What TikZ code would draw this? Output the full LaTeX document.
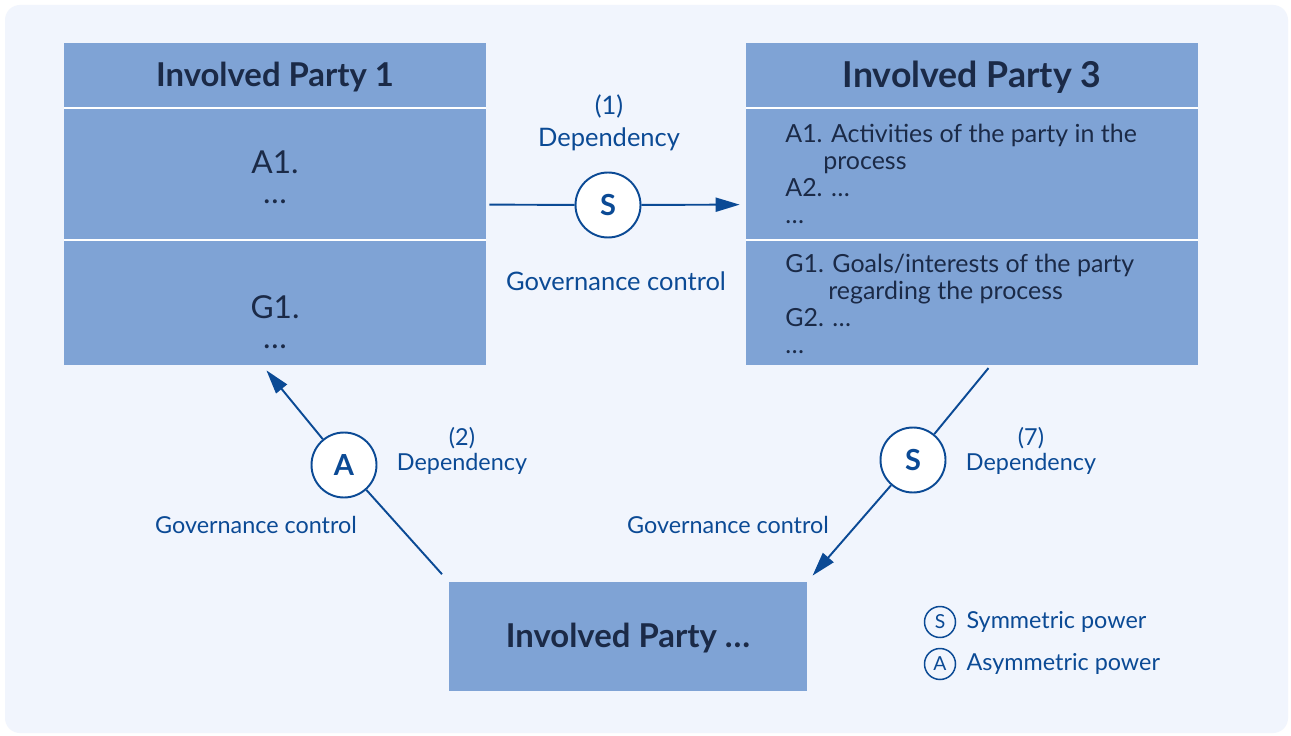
\documentclass[tikz,border=0pt]{standalone}
\usepackage{fontspec}
\setmainfont{Lato}
\usepackage{tikz}
\usetikzlibrary{arrows.meta,positioning}
\definecolor{pagebg}{HTML}{F1F5FD}
\definecolor{partyfill}{HTML}{7FA3D5}
\definecolor{inkblue}{HTML}{0B4A95}
\definecolor{darktext}{HTML}{1B2A47}

\begin{document}
\begin{tikzpicture}[x=0.02cm, y=-0.02cm,
    party/.style={rectangle, fill=partyfill, inner sep=0pt},
    head/.style={inner sep=0pt, text=darktext, font=\fontsize{18.7}{21}\selectfont\bfseries},
    item/.style={inner sep=0pt, text=darktext, align=center, font=\fontsize{18}{17}\selectfont},
    list/.style={inner sep=0pt, text=darktext, align=left, anchor=north west, font=\fontsize{14.2}{15.4}\selectfont},
    sep/.style={white, line width=1.7pt},
    power/.style={circle, draw=inkblue, fill=white, line width=1.1pt, minimum size=1.3cm, inner sep=0pt, text=inkblue, font=\fontsize{16.5}{16.5}\selectfont\bfseries},
    key/.style={circle, draw=inkblue, line width=0.85pt, minimum size=0.62cm, inner sep=0pt, text=inkblue, font=\fontsize{11}{11}\selectfont},
    lbl/.style={inner sep=0pt, text=inkblue, align=center, font=\fontsize{14.5}{18}\selectfont},
    slbl/.style={inner sep=0pt, text=inkblue, align=center, font=\fontsize{13.3}{13.8}\selectfont},
    link/.style={draw=inkblue, line width=1.1pt},
    arrow/.style={link, -{Triangle[length=0.48cm, width=0.28cm]}}
]
    % Background
    \fill[white] (0,0) rectangle (1291,736);
    \fill[pagebg, rounded corners=0.3cm] (5,5) rectangle (1288,733);

    % Involved Party 1
    \node[party, minimum width=8.44cm, minimum height=6.44cm] (p1) at (275,204) {};
    \draw[sep] (p1.west |- 0,108) -- (p1.east |- 0,108);
    \draw[sep] (p1.west |- 0,240) -- (p1.east |- 0,240);
    \node[head] (p1head) at (275,77) {Involved Party 1};
    \node[item] (p1act) at (275,177) {A1.\\…};
    \node[item] (p1goal) at (275,322) {G1.\\…};

    % Involved Party 3
    \node[party, minimum width=9.04cm, minimum height=6.44cm] (p3) at (972,204) {};
    \draw[sep] (p3.west |- 0,108) -- (p3.east |- 0,108);
    \draw[sep] (p3.west |- 0,240) -- (p3.east |- 0,240);
    \node[head, font=\fontsize{20.3}{23}\selectfont\bfseries] (p3head) at (972,77) {Involved Party 3};
    \node[list] (p3act) at (785,124) {A1. Activities of the party in the\\\hspace*{0.76cm}process\\A2. …\\…};
    \node[list] (p3goal) at (785,254) {G1. Goals/interests of the party\\\hspace*{0.86cm}regarding the process\\G2. …\\…};

    % Involved Party ...
    \node[party, minimum width=7.16cm, minimum height=2.18cm] (pn) at (628,636.5) {};
    \node[head] (pnhead) at (628,638) {Involved Party …};

    % Power circles
    \node[power] (sym1) at (608,205) {S};
    \node[power] (asym2) at (344,465) {A};
    \node[power] (sym7) at (913,460) {S};
    \coordinate (tip2) at (262,365);
    \coordinate (top7) at (991,365);

    % Connectors
    \draw[link, shorten <=0.06cm] (p1) -- (sym1);
    \draw[arrow, shorten >=0.12cm] (sym1) -- (p3);
    \draw[link, shorten <=0.2cm] (pn.north west) -- (asym2);
    \draw[arrow, shorten >=0.14cm] (asym2) -- (tip2);
    \draw[link, shorten <=0.08cm] (top7) -- (sym7);
    \draw[arrow, shorten >=0.16cm] (sym7) -- (pn.north east);

    % Labels
    \node[lbl] (dep1) at (609,123) {(1)\\Dependency};
    \node[lbl] (gov1) at (616,281) {Governance control};
    \node[slbl] (dep2) at (462,451) {(2)\\Dependency};
    \node[slbl] (gov2) at (256,525) {Governance control};
    \node[slbl] (dep7) at (1031,451) {(7)\\Dependency};
    \node[slbl] (gov7) at (728,525) {Governance control};

    % Legend
    \node[key] (keys) at (940,622) {S};
    \node[slbl, right=0.2cm of keys] (keystext) {Symmetric power};
    \node[key] (keya) at (940,664) {A};
    \node[slbl, right=0.2cm of keya] (keyatext) {Asymmetric power};
\end{tikzpicture}
\end{document}
